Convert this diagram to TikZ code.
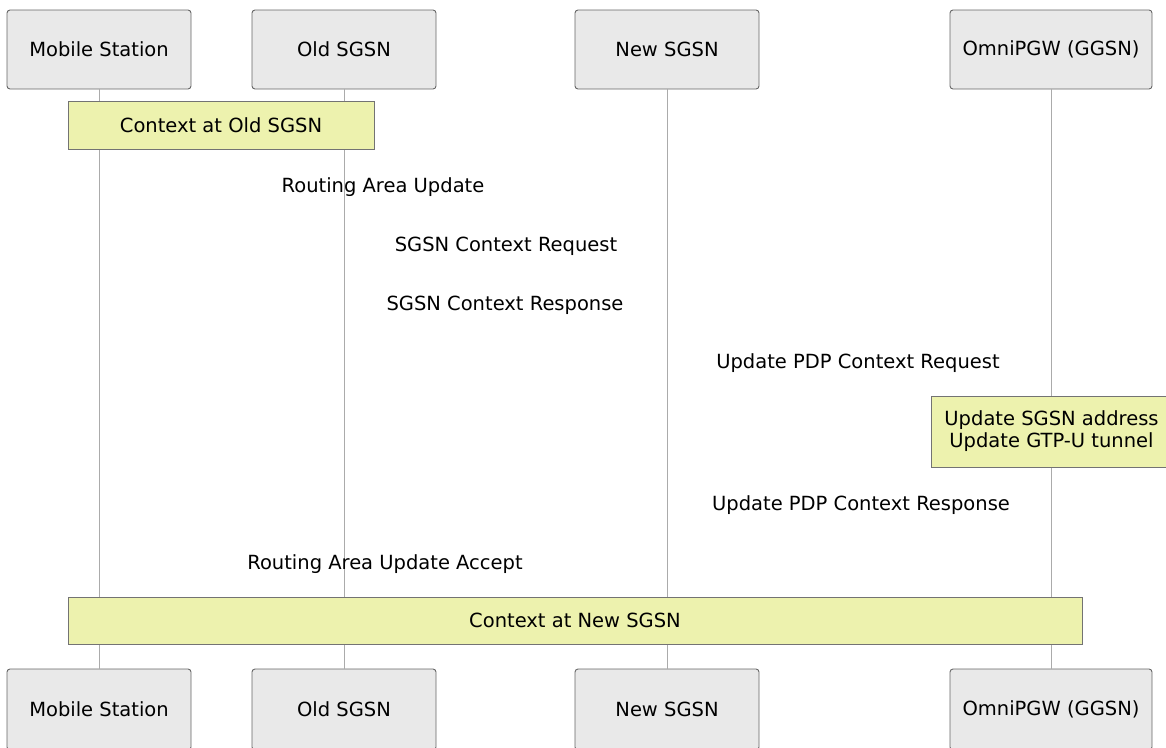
\documentclass[tikz,border=0pt]{standalone}
\usepackage{fontspec}
\setmainfont{DejaVu Sans}
\begin{document}
\begin{tikzpicture}[x=1pt,y=-1pt,
  every node/.style={font=\fontsize{19.5}{22}\selectfont, inner sep=0pt},
  actor/.style={draw=black!60, fill=black!8.5, rounded corners=3pt, line width=0.9pt,
    minimum width=184pt, minimum height=79pt},
  lifeline/.style={draw=black!33, line width=1pt},
  notebox/.style={draw=black!55, fill={rgb,255:red,237;green,242;blue,174}, line width=0.9pt,
    align=center},
  msg/.style={anchor=center}
]
\useasboundingbox (0,0) rectangle (1166,747);
% participants top
\node[actor] (ms) at (99,49.5) {Mobile Station};
\node[actor] (old) at (344,49.5) {Old SGSN};
\node[actor] (new) at (667,49.5) {New SGSN};
\node[actor, minimum width=202pt] (pgw) at (1051,49.5) {OmniPGW (GGSN)};
% participants bottom
\node[actor, minimum height=81pt] (ms2) at (99,709.5) {Mobile Station};
\node[actor, minimum height=81pt] (old2) at (344,709.5) {Old SGSN};
\node[actor, minimum height=81pt] (new2) at (667,709.5) {New SGSN};
\node[actor, minimum width=202pt, minimum height=81pt] (pgw2) at (1051,709.5) {OmniPGW (GGSN)};
% lifelines
\draw[lifeline] (ms.south) -- (ms2.north);
\draw[lifeline] (old.south) -- (old2.north);
\draw[lifeline] (new.south) -- (new2.north);
\draw[lifeline] (pgw.south) -- (pgw2.north);
% notes
\node[notebox, minimum width=306pt, minimum height=48pt] (n1) at (221,125) {Context at Old SGSN};
\node[notebox, minimum width=240pt, minimum height=71pt] (n2) at (1051.5,431.5) {Update SGSN address\\Update GTP-U tunnel};
\node[notebox, minimum width=1014pt, minimum height=47pt] (n3) at (575,620.5) {Context at New SGSN};
% messages (labels only)
\node[msg] (m1) at (383,187.5) {Routing Area Update};
\node[msg] (m2) at (506,246.5) {SGSN Context Request};
\node[msg] (m3) at (505,305.5) {SGSN Context Response};
\node[msg] (m4) at (858,363.5) {Update PDP Context Request};
\node[msg] (m5) at (861,505.5) {Update PDP Context Response};
\node[msg] (m6) at (385,564.5) {Routing Area Update Accept};
\end{tikzpicture}
\end{document}
